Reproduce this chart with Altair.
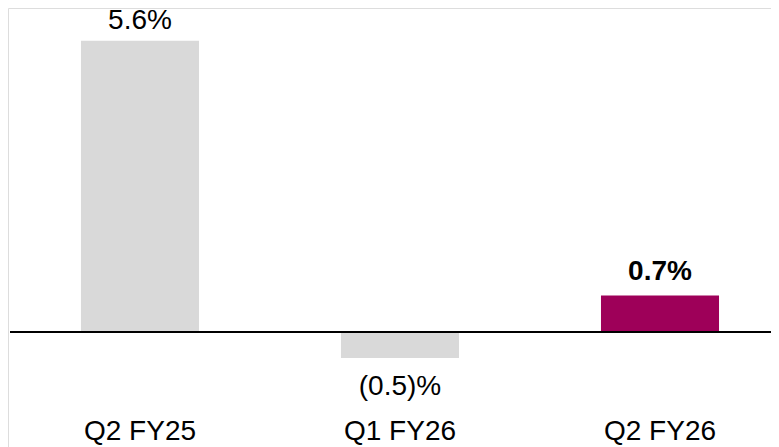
import altair as alt
import pandas as pd

categories = ["Q2 FY25", "Q1 FY26", "Q2 FY26"]
values = [5.6, -0.5, 0.7]
labels = ["5.6%", "(0.5)%", "0.7%"]
highlight = [False, False, True]

df = pd.DataFrame({
    "cat": categories,
    "val": values,
    "label": labels,
    "hl": highlight,
})

PX_PER_UNIT = 52.0
ZERO_PX = 324            # distance of the zero line from the plot top
YMAX = ZERO_PX / PX_PER_UNIT
PLOT_H = 439
YMIN = YMAX - PLOT_H / PX_PER_UNIT

xscale = alt.Scale(domain=categories, range=[2, 782], paddingInner=0.546, paddingOuter=0.273)
yscale = alt.Scale(domain=[YMIN, YMAX], nice=False, zero=False)

base = alt.Chart(df).encode(
    x=alt.X("cat:N", scale=xscale, axis=None, sort=categories),
)

bars = base.mark_bar().encode(
    y=alt.Y("val:Q", scale=yscale, axis=None),
    y2=alt.datum(0),
    color=alt.Color("hl:N", scale=alt.Scale(domain=[False, True], range=["#d9d9d9", "#9e0059"]), legend=None),
)

font = "Liberation Sans"
FS = 28

pos_labels = base.transform_filter("datum.val >= 0 && !datum.hl").mark_text(
    font=font, fontSize=FS, dy=-20, baseline="middle", color="#000000"
).encode(y=alt.Y("val:Q", scale=yscale, axis=None), text="label:N")

hl_labels = base.transform_filter("datum.hl").mark_text(
    font=font, fontSize=FS, fontWeight="bold", dy=-24, baseline="middle", color="#000000"
).encode(y=alt.Y("val:Q", scale=yscale, axis=None), text="label:N")

neg_labels = base.transform_filter("datum.val < 0").mark_text(
    font=font, fontSize=FS, dy=29, baseline="middle", color="#000000"
).encode(y=alt.Y("val:Q", scale=yscale, axis=None), text="label:N")

cat_labels = base.mark_text(
    font=font, fontSize=FS, baseline="middle", color="#000000"
).encode(y=alt.value(424), text="cat:N")

baseline = alt.Chart(pd.DataFrame({"z": [0]})).mark_rule(color="#000000", strokeWidth=2).encode(
    y=alt.Y("z:Q", scale=yscale, axis=None),
    x=alt.value(2),
    x2=alt.value(770),
)

chart = alt.layer(bars, baseline, pos_labels, hl_labels, neg_labels, cat_labels).properties(
    width=763,
    height=PLOT_H,
    padding=0,
    autosize=alt.AutoSizeParams(type="none"),
).configure_view(stroke=None, strokeWidth=0).configure(background="#ffffff")

chart.save("out.html", embed_options={"renderer": "svg", "actions": False})
